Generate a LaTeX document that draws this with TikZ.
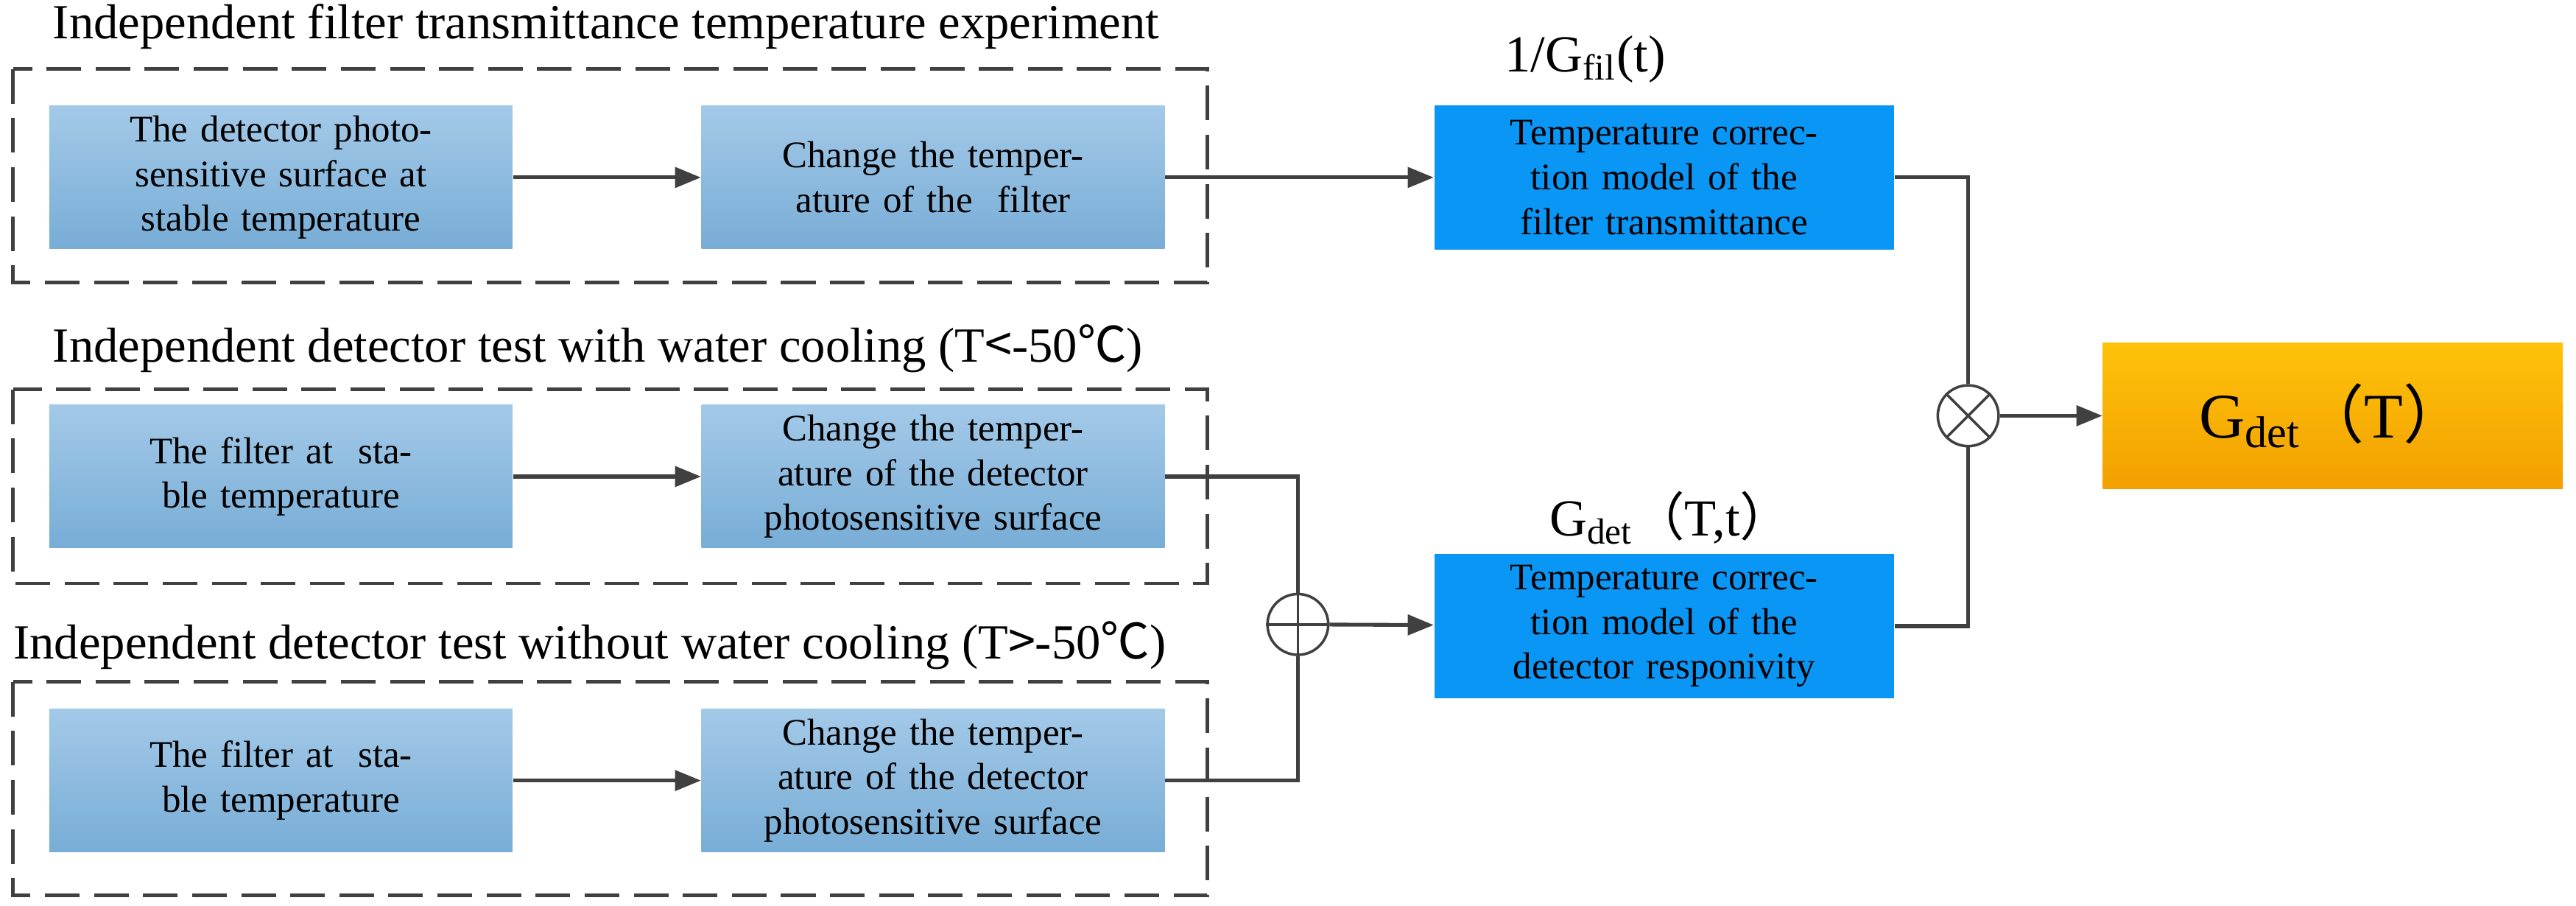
\documentclass[tikz,border=0pt]{standalone}
\usepackage{fontspec}
\setmainfont{Liberation Serif}
\newfontfamily\cjk{Noto Sans CJK SC}
\usetikzlibrary{arrows.meta,shapes.misc}
\definecolor{lb1}{HTML}{A3C9E8}
\definecolor{lb2}{HTML}{78ADD6}
\definecolor{bb}{HTML}{0A96F5}
\definecolor{or1}{HTML}{FFC20A}
\definecolor{or2}{HTML}{F2A000}
\definecolor{ln}{HTML}{404040}
\tikzset{
 lbox/.style={draw=none,top color=lb1,bottom color=lb2,minimum width=5.64cm,minimum height=1.74cm,text width=5.0cm,align=center,font=\fontsize{13}{15.5}\selectfont},
 bbox/.style={draw=none,fill=bb,minimum width=5.6cm,minimum height=1.76cm,text width=5.0cm,align=center,font=\fontsize{13}{15.5}\selectfont},
 dbox/.style={draw=ln,line width=1.2pt,dash pattern=on 12pt off 5pt},
 ttl/.style={anchor=west,font=\fontsize{17}{19}\selectfont},
 con/.style={draw=ln,line width=1.3pt},
 arr/.style={con,-{Triangle[length=9pt,width=7pt]}},
 circ/.style={circle,draw=ln,line width=0.9pt,fill=white,minimum size=0.74cm,inner sep=0pt}
}
\begin{document}
\begin{tikzpicture}[x=0.02cm,y=-0.02cm]
\useasboundingbox (0,0) rectangle (1568,551);
\node[ttl] (t1) at (26,16) {Independent filter transmittance temperature experiment};
\draw[dbox] (8,42) rectangle (735,172);
\node[lbox] (a) at (171,108) {The detector photosensitive surface at stable temperature};
\node[lbox] (b) at (568,108) {Change the temperature of the\ \ filter};
\node[ttl] (t2) at (26,212) {Independent detector test with water cooling (T{\cjk <}-50{\cjk ℃})};
\draw[dbox] (8,237) rectangle (735,355);
\node[lbox] (d) at (171,290) {The filter at\ \ stable temperature};
\node[lbox] (e) at (568,290) {Change the temperature of the detector photosensitive surface};
\node[ttl] (t3) at (2,393) {Independent detector test without water cooling (T{\cjk >}-50{\cjk ℃})};
\draw[dbox] (8,415) rectangle (735,545);
\node[lbox] (f) at (171,475) {The filter at\ \ stable temperature};
\node[lbox] (g) at (568,475) {Change the temperature of the detector photosensitive surface};
\node[bbox] (c) at (1013,108) {Temperature correction model of the filter transmittance};
\node[bbox] (h) at (1013,381) {Temperature correction model of the detector responivity};
\node[font=\fontsize{18}{20}\selectfont] (l1) at (965,36) {1/G\textsubscript{fil}(t)};
\node[font=\fontsize{18}{20}\selectfont] (l2) at (1017,315) {G\textsubscript{det}{\cjk （}T,t{\cjk ）}};
\node[draw=none,top color=or1,bottom color=or2,minimum width=5.6cm,minimum height=1.78cm,font=\fontsize{22}{24}\selectfont] (i) at (1420,253) {G\textsubscript{det}{\cjk （}T{\cjk ）}};
\node[circ] (p) at (790,380) {};
\draw[ln,line width=0.9pt] (p.north)--(p.south) (p.west)--(p.east);
\node[circ] (m) at (1198,253) {};
\draw[ln,line width=0.9pt] (m.north west)--(m.south east) (m.north east)--(m.south west);
\draw[arr] (a)--(b);
\draw[arr] (d)--(e);
\draw[arr] (f)--(g);
\draw[arr] (b)--(c);
\draw[con] (e.east) -| (p.north);
\draw[con] (g.east) -| (p.south);
\draw[arr] (p)--(h);
\draw[con] (c.east) -| (m.north);
\draw[con] (h.east) -| (m.south);
\draw[arr] (m)--(i);
\end{tikzpicture}
\end{document}
